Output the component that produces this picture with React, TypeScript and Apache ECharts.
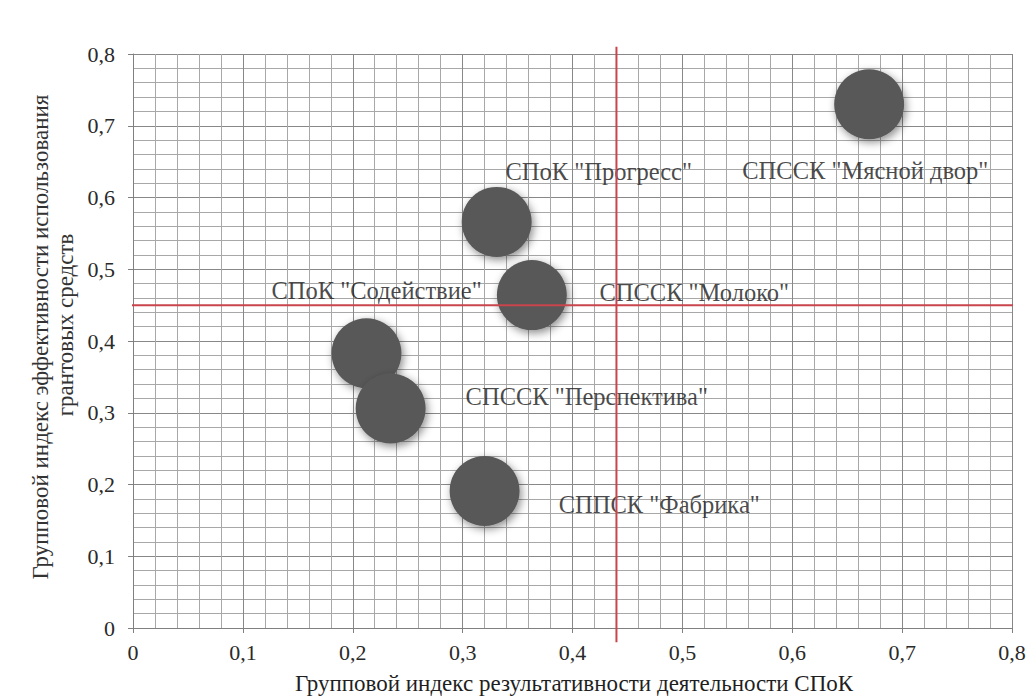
import React, { useEffect, useRef } from "react";
import * as echarts from "echarts";

const companies = [
  'СПССК "Мясной двор"',
  'СПоК "Прогресс"',
  'СПССК "Молоко"',
  'СПоК "Содействие"',
  'СПССК "Перспектива"',
  'СППСК "Фабрика"',
];
const performanceIndex = [0.67, 0.331, 0.363, 0.2125, 0.2345, 0.32];
const efficiencyIndex = [0.73, 0.566, 0.464, 0.383, 0.306, 0.191];
const bubbleWeight = [1, 1, 1, 1, 1, 1];
const labelAnchorX = [0.5545, 0.339, 0.4245, 0.126, 0.3027, 0.3875];
const labelAnchorY = [0.638, 0.636, 0.468, 0.471, 0.3224, 0.1728];
const tickLabels = ["0", "0,1", "0,2", "0,3", "0,4", "0,5", "0,6", "0,7", "0,8"];
const thresholdX = 0.44;
const thresholdY = 0.45;
const xTitle = "Групповой индекс результативности деятельности СПоК";
const yTitleLine1 = "Групповой индекс эффективности использования";
const yTitleLine2 = "грантовых средств";

const SERIF = "'Liberation Serif', 'Times New Roman', serif";

export default function App() {
  const ref = useRef<HTMLDivElement>(null);
  useEffect(() => {
    document.body.style.margin = "0";
    const chart = echarts.init(ref.current!, undefined, { renderer: "svg" });
    const axisCommon = {
      type: "value" as const,
      min: 0,
      max: 0.8,
      interval: 0.1,
      axisLine: { show: true, lineStyle: { color: "#808080", width: 1 } },
      axisTick: { show: true, length: 5, lineStyle: { color: "#808080" } },
      splitLine: { show: true, lineStyle: { color: "#888888", width: 1 } },
      minorTick: { show: false, splitNumber: 5 },
      minorSplitLine: { show: true, lineStyle: { color: "#a8a8a8", width: 1 } },
    };
    chart.setOption({
      animation: false,
      backgroundColor: "#ffffff",
      grid: { left: 133, right: 24, top: 54, bottom: 71 },
      xAxis: {
        ...axisCommon,
        axisLabel: {
          fontSize: 22,
          margin: 13,
          color: "#2a2a2a",
          fontFamily: SERIF,
          formatter: (v: number) => tickLabels[Math.round(v * 10)],
        },
      },
      yAxis: {
        ...axisCommon,
        axisLabel: {
          fontSize: 22,
          margin: 18,
          color: "#2a2a2a",
          fontFamily: SERIF,
          formatter: (v: number) => tickLabels[Math.round(v * 10)],
        },
      },
      series: [
        {
          type: "scatter",
          name: "bubbles",
          symbolSize: (val: number[]) => 70 * val[2],
          data: companies.map((n, i) => ({
            name: n,
            value: [performanceIndex[i], efficiencyIndex[i], bubbleWeight[i]],
          })),
          itemStyle: {
            color: "#595959",
            opacity: 1,
            shadowBlur: 8,
            shadowColor: "rgba(0,0,0,0.45)",
            shadowOffsetX: 2,
            shadowOffsetY: 3,
          },
          z: 2,
        },
        {
          type: "scatter",
          name: "labels",
          symbolSize: 0,
          data: companies.map((n, i) => ({
            name: n,
            value: [labelAnchorX[i], labelAnchorY[i]],
          })),
          label: {
            show: true,
            position: "right",
            distance: 0,
            formatter: (p: any) => p.name,
            fontSize: 24.5,
            color: "#1a1a1a",
            fontFamily: SERIF,
          },
          z: 3,
        },
        {
          type: "line",
          name: "vertical",
          clip: false,
          symbol: "none",
          data: [
            [thresholdX, -0.02],
            [thresholdX, 0.81],
          ],
          lineStyle: { color: "#c9444c", width: 2 },
          z: 5,
        },
        {
          type: "line",
          name: "horizontal",
          clip: false,
          symbol: "none",
          data: [
            [-0.005, thresholdY],
            [0.803, thresholdY],
          ],
          lineStyle: { color: "#c9444c", width: 2 },
          z: 5,
        },
      ],
      graphic: [
        {
          type: "text",
          x: 574,
          y: 683,
          style: {
            text: xTitle,
            fontSize: 23,
            fontFamily: SERIF,
            fill: "#1f1f1f",
            textAlign: "center",
            textVerticalAlign: "middle",
          },
        },
        {
          type: "text",
          x: 40,
          y: 337,
          rotation: Math.PI / 2,
          style: {
            text: yTitleLine1,
            fontSize: 23,
            fontFamily: SERIF,
            fill: "#333",
            textAlign: "center",
            textVerticalAlign: "middle",
          },
        },
        {
          type: "text",
          x: 65,
          y: 325,
          rotation: Math.PI / 2,
          style: {
            text: yTitleLine2,
            fontSize: 23,
            fontFamily: SERIF,
            fill: "#333",
            textAlign: "center",
            textVerticalAlign: "middle",
          },
        },
      ],
    });
    return () => chart.dispose();
  }, []);
  return <div ref={ref} style={{ width: 1036, height: 699 }} />;
}
